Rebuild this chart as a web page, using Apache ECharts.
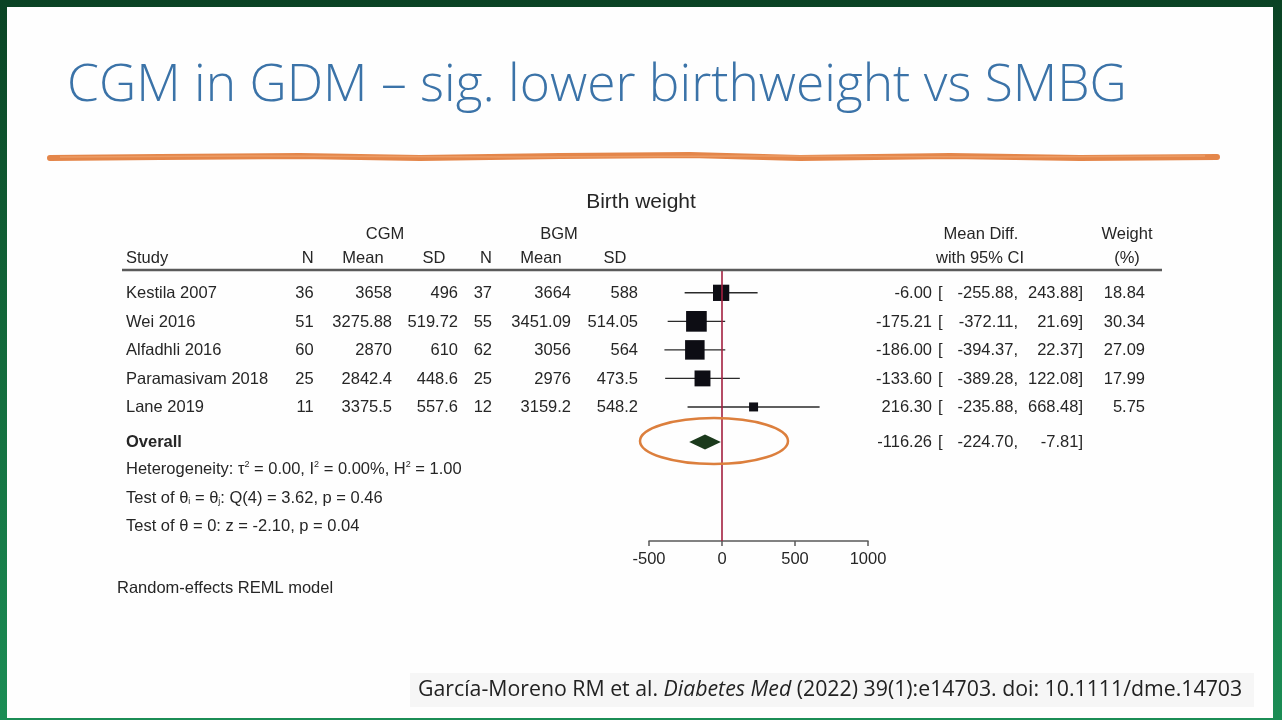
<!DOCTYPE html>
<html>
<head>
<meta charset="utf-8">
<script src="https://cdn.jsdelivr.net/npm/echarts@6/dist/echarts.min.js"></script>
<style>
	body{margin:0;padding:0;background:#0a4324;}
	#main{width:1282px;height:720px;}
</style>
</head>
<body>
<div id="main"></div>
<script>
//研究数据
var studies = ['Kestila 2007', 'Wei 2016', 'Alfadhli 2016', 'Paramasivam 2018', 'Lane 2019'];
var cgmN = [36, 51, 60, 25, 11];
var cgmMean = [3658, 3275.88, 2870, 2842.4, 3375.5];
var cgmSD = [496, 519.72, 610, 448.6, 557.6];
var bgmN = [37, 55, 62, 25, 12];
var bgmMean = [3664, 3451.09, 3056, 2976, 3159.2];
var bgmSD = [588, 514.05, 564, 473.5, 548.2];
var meanDiff = [-6.00, -175.21, -186.00, -133.60, 216.30];
var ciLow = [-255.88, -372.11, -394.37, -389.28, -235.88];
var ciHigh = [243.88, 21.69, 22.37, 122.08, 668.48];
var weights = [18.84, 30.34, 27.09, 17.99, 5.75];
var overall = [-116.26, -224.70, -7.81];
var xTicks = [-500, 0, 500, 1000];

var pageModule = function () {

	var FONT = '"Liberation Sans", Arial, sans-serif';
	var SLIDE_FONT = '"Open Sans", "Noto Sans", sans-serif';
	var rowTop = 270, rowH = 28.53, yMin = 0.2, yMax = 9.7;
	var overallRow = 6.23;

	var rowY = function(r){
		return rowTop + (r - yMin) * rowH;
	}

	var $each = function(arr, fn){
		for(var i = 0; i < arr.length; i++){ fn(i, arr[i]); }
	}

	var txt = function(str, x, y, align, opt){
		opt = opt || {};
		return {
			type: 'text', x: x, y: y, z: 20, silent: true,
			style: {
				text: str,
				fill: opt.fill || '#262626',
				fontSize: opt.size || 16.5,
				fontFamily: opt.family || FONT,
				fontWeight: opt.weight || 'normal',
				textAlign: align || 'left',
				textVerticalAlign: 'middle',
				rich: opt.rich
			}
		};
	}

	var buildGraphic = function(){
		var g = [];
		//背景
		g.push({type: 'rect', z: -20, shape: {x: 0, y: 0, width: 1282, height: 720},
			style: {fill: new echarts.graphic.LinearGradient(0, 0, 0, 1, [
				{offset: 0, color: '#0a4324'}, {offset: 0.5, color: '#136b3c'}, {offset: 1, color: '#1b8d55'}])}});
		g.push({type: 'rect', z: -19, shape: {x: 7, y: 7, width: 1266, height: 711}, style: {fill: '#fefefe'}});

		g.push(txt('CGM in GDM – sig. lower birthweight vs SMBG', 67, 86, 'left',
			{fill: '#3b73a8', size: 51.5, family: SLIDE_FONT, weight: 300}));

		//橙色刷线
		g.push({type: 'polyline', z: 5, shape: {points: [[50, 158], [160, 157], [300, 156], [420, 158], [560, 156],
			[690, 155], [800, 158], [950, 156], [1080, 158], [1217, 157]]},
			style: {stroke: '#e4864a', lineWidth: 6, lineCap: 'round', fill: null}});
		g.push({type: 'polyline', z: 6, shape: {points: [[60, 157], [250, 156], [520, 157], [760, 156], [1000, 157], [1205, 156]]},
			style: {stroke: '#f0a571', lineWidth: 1.5, opacity: 0.7, fill: null}});

		g.push(txt('Birth weight', 641, 202, 'center', {size: 21}));

		//表头
		g.push(txt('CGM', 385, 234, 'center'));
		g.push(txt('BGM', 559, 234, 'center'));
		g.push(txt('Study', 126, 258, 'left'));
		g.push(txt('N', 313.6, 258, 'right'));
		g.push(txt('Mean', 363, 258, 'center'));
		g.push(txt('SD', 434, 258, 'center'));
		g.push(txt('N', 492, 258, 'right'));
		g.push(txt('Mean', 541, 258, 'center'));
		g.push(txt('SD', 615, 258, 'center'));
		g.push(txt('Mean Diff.', 981, 234, 'center'));
		g.push(txt('with 95% CI', 980, 258, 'center'));
		g.push(txt('Weight', 1127, 234, 'center'));
		g.push(txt('(%)', 1127, 258, 'center'));
		g.push({type: 'line', z: 10, shape: {x1: 122, y1: 270, x2: 1162, y2: 270},
			style: {stroke: '#5a5a5a', lineWidth: 2.5}});

		//表格行
		var cols = [cgmN, cgmMean, cgmSD, bgmN, bgmMean, bgmSD];
		var colX = [313.6, 392, 458, 492, 571, 638];
		$each(studies, function(i, name){
			var y = rowY(i + 1) + 1;
			g.push(txt(name, 126, y, 'left'));
			$each(cols, function(j, c){
				g.push(txt(String(c[i]), colX[j], y, 'right'));
			});
			g.push(txt(meanDiff[i].toFixed(2), 932, y, 'right'));
			g.push(txt('[', 938, y, 'left'));
			g.push(txt(ciLow[i].toFixed(2) + ',', 1018, y, 'right'));
			g.push(txt(ciHigh[i].toFixed(2) + ']', 1083, y, 'right'));
			g.push(txt(weights[i].toFixed(2), 1145, y, 'right'));
		});

		var oy = rowY(overallRow);
		g.push(txt('Overall', 126, oy, 'left', {weight: 'bold'}));
		g.push(txt(overall[0].toFixed(2), 932, oy, 'right'));
		g.push(txt('[', 938, oy, 'left'));
		g.push(txt(overall[1].toFixed(2) + ',', 1018, oy, 'right'));
		g.push(txt(overall[2].toFixed(2) + ']', 1083, oy, 'right'));

		var rich = {
			sup: {fontSize: 9, fontFamily: FONT, fill: '#262626', verticalAlign: 'top'},
			sub: {fontSize: 9, fontFamily: FONT, fill: '#262626', verticalAlign: 'bottom'}
		};
		g.push(txt('Heterogeneity: τ{sup|2} = 0.00, I{sup|2} = 0.00%, H{sup|2} = 1.00', 126, 469, 'left', {rich: rich}));
		g.push(txt('Test of θ{sub|i} = θ{sub|j}: Q(4) = 3.62, p = 0.46', 126, 498, 'left', {rich: rich}));
		g.push(txt('Test of θ = 0: z = -2.10, p = 0.04', 126, 526, 'left', {rich: rich}));
		g.push(txt('Random-effects REML model', 117, 588, 'left'));

		//标注椭圆
		g.push({type: 'ellipse', z: 30, shape: {cx: 714, cy: 441, rx: 74, ry: 23},
			style: {stroke: '#dc7f3d', lineWidth: 2.5, fill: null}});

		//引用
		g.push({type: 'rect', z: -5, shape: {x: 410, y: 673, width: 844, height: 34}, style: {fill: '#f6f6f6'}});
		g.push(txt('García-Moreno RM et al. {it|Diabetes Med} (2022) 39(1):e14703. doi: 10.1111/dme.14703', 418, 690, 'left',
			{fill: '#222', size: 21.3, family: SLIDE_FONT,
			 rich: {it: {fontStyle: 'italic', fontSize: 21.3, fontFamily: SLIDE_FONT, fill: '#222'}}}));
		return g;
	}

	var initChart = function(){
		var chart = echarts.init(document.getElementById('main'));
		var studyData = [];
		$each(studies, function(i){
			studyData.push([meanDiff[i], ciLow[i], ciHigh[i], weights[i], i + 1]);
		});
		chart.setOption({
			animation: false,
			grid: {left: 649, top: rowTop, width: 219, height: rowH * (yMax - yMin), containLabel: false, outerBoundsMode: 'none'},
			xAxis: {
				type: 'value', min: xTicks[0], max: xTicks[xTicks.length - 1], interval: 500,
				axisLine: {show: true, lineStyle: {color: '#5a5a5a', width: 1.5}},
				axisTick: {show: true, length: 5, lineStyle: {color: '#5a5a5a', width: 1.5}},
				axisLabel: {color: '#262626', fontSize: 16.5, fontFamily: FONT, margin: 10,
					formatter: function(v){ return String(v); }},
				splitLine: {show: false}
			},
			yAxis: {type: 'value', min: yMin, max: yMax, inverse: true, show: false},
			series: [
				{
					type: 'line', z: 1, data: [], silent: true,
					markLine: {
						symbol: 'none', silent: true, label: {show: false},
						lineStyle: {color: '#a3203f', width: 1.6, type: 'solid'},
						data: [{xAxis: 0}]
					}
				},
				{
					type: 'custom', z: 3, data: studyData,
					encode: {x: [0, 1, 2], y: 4},
					renderItem: function(params, api){
						var lo = api.coord([api.value(1), api.value(4)]);
						var hi = api.coord([api.value(2), api.value(4)]);
						var c = api.coord([api.value(0), api.value(4)]);
						var s = 3.75 * Math.sqrt(api.value(3));
						return {type: 'group', children: [
							{type: 'line', shape: {x1: lo[0], y1: lo[1], x2: hi[0], y2: hi[1]}, style: {stroke: '#2a2a2a', lineWidth: 1.4}},
							{type: 'rect', shape: {x: c[0] - s / 2, y: c[1] - s / 2, width: s, height: s}, style: {fill: '#0d0d14'}}
						]};
					}
				},
				{
					type: 'custom', z: 3, data: [[overall[0], overall[1], overall[2], overallRow]],
					encode: {x: [0, 1, 2], y: 3},
					renderItem: function(params, api){
						var lo = api.coord([api.value(1), api.value(3)]);
						var hi = api.coord([api.value(2), api.value(3)]);
						var c = api.coord([api.value(0), api.value(3)]);
						return {type: 'polygon', shape: {points: [[lo[0], lo[1]], [c[0], c[1] - 7.5], [hi[0], hi[1]], [c[0], c[1] + 7.5]]},
							style: {fill: '#1b3a1c'}};
					}
				}
			],
			graphic: buildGraphic()
		});
	}

	return {
		initControl: function () {
			initChart();
		}
	}
}();

pageModule.initControl();
</script>
</body>
</html>
